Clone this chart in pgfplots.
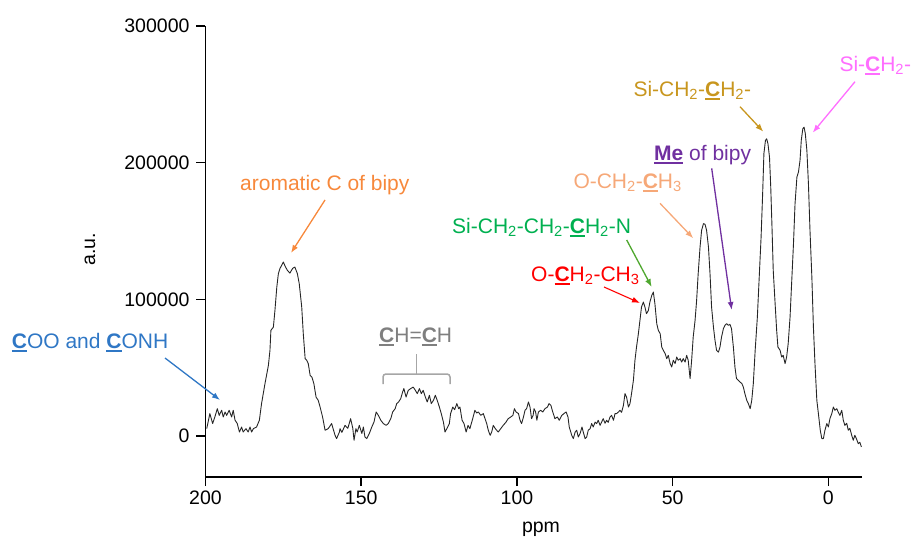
\documentclass[border=0pt]{standalone}
\usepackage{fontspec}
\setmainfont{Liberation Sans}
\usepackage{pgfplots}
\pgfplotsset{compat=1.18}
\usepackage{pgfplotstable}
\usetikzlibrary{arrows.meta}

\definecolor{cBlue}{HTML}{2F77C5}
\definecolor{cOrange}{HTML}{F7883B}
\definecolor{cGray}{HTML}{7F7F7F}
\definecolor{cBrace}{HTML}{A6A6A6}
\definecolor{cGreen}{HTML}{00B050}
\definecolor{cGreenArrow}{HTML}{4EA72E}
\definecolor{cRed}{HTML}{FF0000}
\definecolor{cSalmon}{HTML}{F6A878}
\definecolor{cPurple}{HTML}{7030A0}
\definecolor{cGold}{HTML}{C8961E}
\definecolor{cPink}{HTML}{FF6EFF}

% bold, underlined atom marker
\newcommand\ub[1]{\setbox0=\hbox{\bfseries #1}\leavevmode\rlap{\rule[-0.17em]{\wd0}{0.09em}}\box0\relax}
\newcommand\s[1]{\textsubscript{#1}}

% 13C CP/MAS NMR spectrum (ppm, intensity in a.u.)
\pgfplotstableread{
ppm au
199.6 5400
198.6 16400
197.7 9100
197.0 13900
196.2 20000
195.6 15100
194.8 18800
194.3 13900
193.7 17600
193.2 15100
192.4 18800
191.6 13900
191.1 18800
190.5 11500
189.8 9100
189.1 2900
188.4 6600
187.9 2900
187.0 5400
186.3 2900
185.7 6600
185.2 2900
184.6 5400
183.6 6600
182.7 11500
182.0 23700
180.9 38300
179.8 51700
179.3 62700
179.0 77300
178.2 79700
177.7 91900
177.1 109000
176.6 118800
176.1 122500
175.0 127300
174.4 124100
173.7 121200
172.9 119200
172.0 122700
171.3 123600
170.5 118800
169.9 111500
169.1 94400
168.6 74900
168.0 56600
167.5 55400
167.0 53000
166.4 44400
165.8 42900
165.2 38300
164.5 28500
163.8 26100
163.2 21200
162.4 13900
161.6 4200
160.6 5400
159.5 9100
158.4 500
157.9 -1900
157.0 2900
156.8 5400
156.2 2700
155.2 7800
154.3 5600
153.4 12700
152.7 5600
152.3 -3100
151.7 5400
151.3 2900
150.6 7800
149.8 1800
149.3 6600
148.8 -700
148.2 -1900
147.4 1800
146.6 6600
145.9 10200
145.2 17600
144.5 15100
143.7 11500
142.9 9100
142.0 7800
141.3 9100
140.5 12700
139.9 17600
139.1 20000
138.6 23700
138.0 24900
137.3 27400
136.7 32200
136.3 34700
135.6 28500
134.9 33400
134.1 34700
133.3 35800
132.6 33400
132.0 31000
131.3 34700
130.7 31000
130.1 33400
129.4 28500
128.8 24900
128.1 29800
127.5 23700
126.8 26100
126.2 29800
125.6 26100
124.9 21200
124.3 16400
123.6 10200
123.1 2900
122.5 5400
121.7 9100
121.3 16400
120.6 21200
120.0 19300
119.3 23700
118.7 20000
118.3 21200
117.6 11500
117.0 9100
116.3 2900
115.7 7800
115.1 5400
114.2 12700
113.5 18800
112.9 16800
112.4 17600
111.6 15100
110.8 16400
109.7 9100
109.2 4200
108.6 500
108.1 2900
107.6 7800
107.0 5600
106.5 4200
106.0 2900
105.2 5400
104.4 7800
103.5 10200
102.8 12700
102.0 13900
101.3 15100
100.8 20000
100.3 17600
99.5 16400
99.0 11500
98.5 9100
97.9 13900
97.4 18800
96.9 20000
96.3 24900
95.8 21200
95.3 12700
94.8 15100
94.5 20000
94.0 17600
93.6 11500
93.1 17600
92.4 18800
91.7 17600
91.0 20000
90.2 21200
89.7 23700
89.1 22500
88.5 17600
87.8 12700
87.0 13900
86.4 11500
85.6 15100
84.9 16400
84.2 17600
83.6 13900
83.2 6600
82.4 500
81.9 -1900
81.3 2900
80.8 4200
80.3 -700
79.7 2000
79.1 6600
78.7 2900
78.1 -1900
77.6 -700
77.1 4200
76.5 5400
76.0 9100
75.5 6600
74.9 10200
74.4 9100
73.9 11500
73.3 7800
72.8 10200
72.3 12700
71.7 9300
71.2 11500
70.7 10000
70.1 13900
69.6 15100
69.0 11500
68.5 16400
68.0 16400
67.4 17600
66.9 18800
66.4 17300
65.8 22500
65.3 31000
64.8 28500
64.2 21200
63.7 23700
63.2 31000
62.6 40700
62.1 55400
61.6 65100
61.0 74900
60.5 84600
60.0 94400
59.4 98000
58.9 94400
58.4 89500
57.8 91900
57.3 98000
56.7 102900
56.2 105300
55.7 96900
55.1 82200
54.6 77300
54.0 74900
53.5 65100
53.0 62700
52.4 60300
51.9 56600
51.4 59000
50.8 53000
50.3 50500
49.8 55400
49.2 53000
48.7 57800
48.2 55400
47.6 56600
47.1 54100
46.6 56600
46.0 54100
45.5 59000
45.0 55400
44.4 42000
43.9 55400
43.4 72400
42.8 84600
42.3 99300
41.8 118800
41.2 138300
40.7 150500
40.1 155400
39.6 154900
39.1 150500
38.5 138300
38.0 118800
37.5 94400
36.9 79700
36.4 70000
35.9 62700
35.3 61400
34.8 65100
34.3 72400
33.7 78600
33.2 81000
32.7 82200
32.1 81000
31.6 81700
31.1 78600
30.5 65100
30.0 50500
29.5 42000
28.9 40700
28.4 39500
27.8 38500
27.3 35800
26.8 31000
26.2 26100
25.7 23700
25.1 20000
24.6 26100
24.1 38300
23.5 62700
22.8 87000
22.2 116300
21.6 145600
21.1 177300
20.7 206600
20.2 216300
19.8 217500
19.4 213900
18.9 204100
18.5 182100
18.1 152900
17.7 121200
17.1 96900
16.6 77300
16.2 65100
15.5 62700
15.0 57800
14.5 59000
13.9 53000
13.4 57800
12.9 67600
12.3 87000
11.8 111500
11.2 140700
10.7 170000
10.1 189500
9.6 193100
9.1 201700
8.7 216300
8.2 224900
7.8 226000
7.4 221200
6.9 209000
6.4 184600
5.9 150500
5.3 116300
4.8 79700
4.3 53000
3.7 26100
3.2 16400
2.6 4200
2.1 -1900
1.6 -1900
1.1 4200
0.5 9100
0.0 6600
-0.5 12700
-1.1 16400
-1.6 21200
-2.1 18800
-2.7 20000
-3.2 17300
-3.7 15100
-4.3 18800
-4.8 11500
-5.3 7800
-5.9 9300
-6.4 4200
-6.9 5600
-7.5 500
-8.0 -3100
-8.5 500
-9.0 -1900
-9.6 -5600
-10.1 -4600
-10.6 -8000
}\spectrum

\begin{document}
\begin{tikzpicture}[font=\fontsize{19.5bp}{23bp}\selectfont]
\path[use as bounding box] (0,0) rectangle (912bp,-544bp);
\begin{axis}[
  at={(205.5bp,-477bp)}, anchor=south west,
  scale only axis, width=656.5bp, height=451bp,
  x dir=reverse,
  xmin=-10.8, xmax=200, ymin=-30000, ymax=300000,
  axis x line*=bottom, axis y line*=left,
  axis line style={line width=1.6bp, black},
  tick align=outside, major tick length=9bp,
  every tick/.style={line width=1.6bp, black},
  xtick={0,50,100,150,200},
  ytick={0,100000,200000,300000},
  scaled y ticks=false,
  yticklabel style={/pgf/number format/fixed, /pgf/number format/1000 sep={}, xshift=-3.5bp},
  xticklabel style={yshift=-1.5bp},
  /pgf/number format/assume math mode=true,
  clip=false,
]
\addplot[line width=0.9bp, color=black!85, line join=round] table[x=ppm, y=au] {\spectrum};
\end{axis}

\begin{scope}[x=1bp, y=-1bp, every node/.style={inner sep=0pt, anchor=base west, font=\fontsize{21bp}{25bp}\selectfont}]
  % axis titles
  \node[anchor=center, font=\fontsize{19.5bp}{23bp}\selectfont] at (541,529) {ppm};
  \node[anchor=center, rotate=90, font=\fontsize{19.5bp}{23bp}\selectfont] at (90,249) {a.u.};

  % peak assignments
  \node[text=cBlue] at (11.7,348) {\ub{C}OO and \ub{C}ONH};
  \draw[cBlue, line width=1.3bp, -{Latex[length=8bp,width=6bp]}] (165,358) -- (220,400);

  \node[text=cOrange] at (240,190) {aromatic C of bipy};
  \draw[cOrange, line width=1.3bp, -{Latex[length=8bp,width=6bp]}] (325,200) -- (291,253);

  \node[text=cGray] at (379,342.5) {\ub{C}H=\ub{C}H};
  \draw[cBrace, line width=1.5bp, rounded corners=3bp] (383,384) -- (383,374) -- (450,374) -- (450,384);
  \draw[cBrace, line width=1.5bp] (416.7,374) -- (416.7,354);

  \node[text=cGreen] at (452,233) {Si-CH\s{2}-CH\s{2}-\ub{C}H\s{2}-N};
  \draw[cGreenArrow, line width=1.3bp, -{Latex[length=8bp,width=6bp]}] (626.7,240) -- (651.7,287);

  \node[text=cRed] at (531,281) {O-\ub{C}H\s{2}-CH\s{3}};
  \draw[cRed, line width=1.1bp, -{Latex[length=8bp,width=6bp]}] (604,287) -- (640,303);

  \node[text=cSalmon] at (573.3,188.3) {O-CH\s{2}-\ub{C}H\s{3}};
  \draw[cSalmon, line width=1.3bp, -{Latex[length=8bp,width=6bp]}] (660,203.3) -- (693.3,238.3);

  \node[text=cPurple] at (654,160) {\ub{Me} of bipy};
  \draw[cPurple, line width=1.3bp, -{Latex[length=8bp,width=6bp]}] (711.7,168.3) -- (731.7,310);

  \node[text=cGold] at (633.3,96.7) {Si-CH\s{2}-\ub{C}H\s{2}-};
  \draw[cGold, line width=1.3bp, -{Latex[length=8bp,width=6bp]}] (740,106.7) -- (763.3,131.7);

  \node[text=cPink] at (839.3,71.7) {Si-\ub{C}H\s{2}-};
  \draw[cPink, line width=1.3bp, -{Latex[length=8bp,width=6bp]}] (855,81.7) -- (812.7,132.7);
\end{scope}
\end{tikzpicture}
\end{document}
